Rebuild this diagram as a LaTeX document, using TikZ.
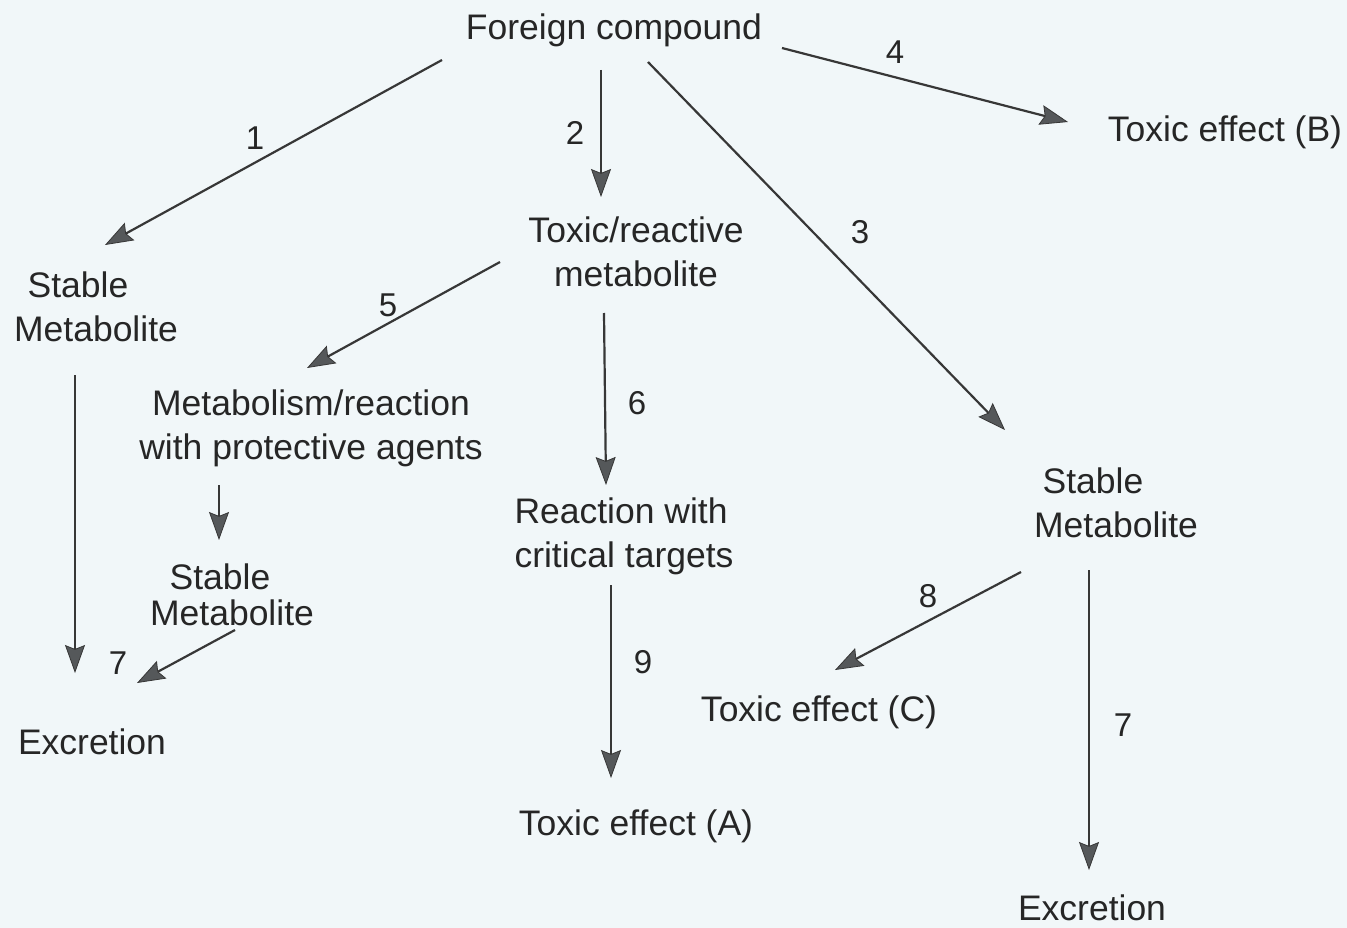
\documentclass[tikz,border=0pt]{standalone}
\usepackage{fontspec}
\setmainfont{Liberation Sans}
\usetikzlibrary{arrows.meta}
\definecolor{bgc}{RGB}{241,247,249}
\definecolor{ink}{RGB}{38,38,38}
\definecolor{linec}{RGB}{55,55,55}
\definecolor{headc}{RGB}{85,88,90}
\tikzset{
  lbl/.style={font=\fontsize{35.5}{44}\selectfont, text=ink, inner sep=0pt, align=center},
  num/.style={font=\fontsize{33}{40}\selectfont, text=ink, inner sep=0pt},
  arr/.style={draw=linec, line width=2.2pt,
    -{Stealth[length=28pt, width=20pt, inset=4pt, fill=headc, line width=0.8pt]}}
}
\begin{document}
\begin{tikzpicture}[x=1pt, y=-1pt]
\fill[bgc] (0,0) rectangle (1347,928);
\useasboundingbox (0,0) rectangle (1347,928);

% nodes
\node[lbl] (fc)  at (614,30)  {Foreign compound};
\node[lbl] (teB) at (1225,132) {Toxic effect (B)};
\node[lbl] (trm) at (636,251.5) {Toxic/reactive\\metabolite};
\node[lbl] (slL) at (96,307)  {Stable\hspace*{36pt}\\Metabolite};
\node[lbl] (mrp) at (311,428) {Metabolism/reaction\\with protective agents};
\node[lbl, font=\fontsize{35.5}{36}\selectfont] (slM) at (232,595) {Stable\hspace*{24pt}\\Metabolite};
\node[lbl, align=left] (rct) at (624,536) {Reaction with\\critical targets};
\node[lbl] (slR) at (1116,503) {Stable\hspace*{46pt}\\Metabolite};
\node[lbl] (teC) at (819,712) {Toxic effect (C)};
\node[lbl] (teA) at (636,826) {Toxic effect (A)};
\node[lbl] (exL) at (92,742)  {Excretion};
\node[lbl] (exR) at (1092,908) {Excretion};

% connectors
\draw[arr] ([shift={(-172,30)}]fc.center) -- ([shift={(9,-62)}]slL.center);
\draw[arr] ([shift={(-13,40)}]fc.center) -- ([shift={(-35,-54.5)}]trm.center);
\draw[arr] ([shift={(34,32)}]fc.center) -- ([shift={(-111,-73)}]slR.center);
\draw[arr] ([shift={(168,18)}]fc.center) -- ([shift={(-157,-10)}]teB.center);
\draw[arr] ([shift={(-136,10.5)}]trm.center) -- ([shift={(-4,-60)}]mrp.center);
\draw[arr] ([shift={(-32,61.5)}]trm.center) -- ([shift={(-18,-51)}]rct.center);
\draw[arr] ([shift={(-13,49)}]rct.center) -- ([shift={(-25,-48)}]teA.center);
\draw[arr] ([shift={(-92,57)}]mrp.center) -- ([shift={(-13,-55)}]slM.center);
\draw[arr] ([shift={(-21,68)}]slL.center) -- ([shift={(-17,-69)}]exL.center);
\draw[arr] ([shift={(3,35)}]slM.center) -- ([shift={(45,-59)}]exL.center);
\draw[arr] ([shift={(-95,69)}]slR.center) -- ([shift={(16,-42)}]teC.center);
\draw[arr] ([shift={(-27,67)}]slR.center) -- ([shift={(-3,-38)}]exR.center);

% connector labels
\node[num] (n1) at (255,138) {1};
\node[num] (n2) at (575,133) {2};
\node[num] (n3) at (860,232) {3};
\node[num] (n4) at (895,52)  {4};
\node[num] (n5) at (388,305) {5};
\node[num] (n6) at (637,403) {6};
\node[num] (n7a) at (118,663) {7};
\node[num] (n8) at (928,596) {8};
\node[num] (n9) at (643,662) {9};
\node[num] (n7b) at (1123,725) {7};
\end{tikzpicture}
\end{document}
